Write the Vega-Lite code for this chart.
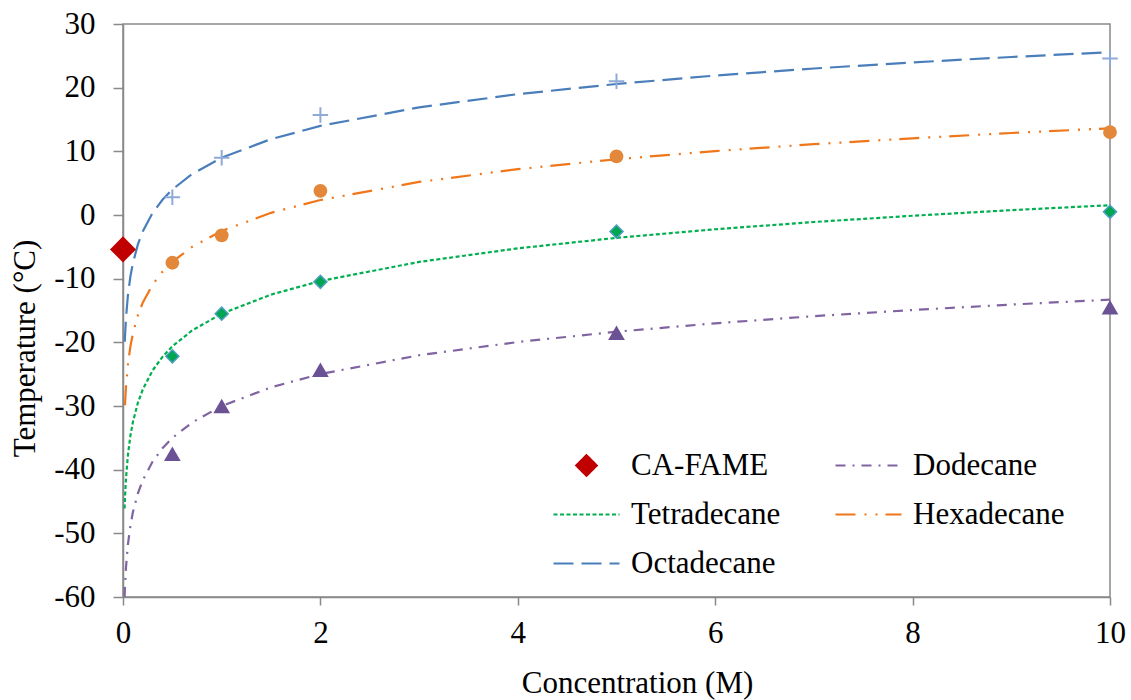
{
  "$schema": "https://vega.github.io/schema/vega-lite/v6.json",
  "width": 987,
  "height": 573,
  "autosize": {"type": "none"},
  "padding": {"left": 123, "top": 24, "right": 21, "bottom": 103},
  "background": "white",
  "config": {
    "font": "Liberation Serif",
    "view": {"stroke": "#898989", "strokeWidth": 1.5},
    "axis": {
      "grid": false,
      "domainColor": "#898989",
      "domainWidth": 1.5,
      "tickColor": "#898989",
      "tickWidth": 1.5,
      "labelFont": "Liberation Serif",
      "labelFontSize": 31,
      "labelColor": "#000000",
      "labelFlush": false,
      "labelOverlap": false,
      "titleFont": "Liberation Serif",
      "titleFontSize": 31,
      "titleFontWeight": "normal",
      "titleColor": "#000000"
    }
  },
  "datasets": {
    "fits": [
      {"series": "Octadecane", "conc": 0.018, "temp": -19.9},
      {"series": "Octadecane", "conc": 0.02, "temp": -19.2},
      {"series": "Octadecane", "conc": 0.03, "temp": -16.25},
      {"series": "Octadecane", "conc": 0.05, "temp": -12.57},
      {"series": "Octadecane", "conc": 0.075, "temp": -9.65},
      {"series": "Octadecane", "conc": 0.1, "temp": -7.58},
      {"series": "Octadecane", "conc": 0.15, "temp": -4.66},
      {"series": "Octadecane", "conc": 0.2, "temp": -2.58},
      {"series": "Octadecane", "conc": 0.3, "temp": 0.33},
      {"series": "Octadecane", "conc": 0.4, "temp": 2.4},
      {"series": "Octadecane", "conc": 0.5, "temp": 4.01},
      {"series": "Octadecane", "conc": 0.7, "temp": 6.43},
      {"series": "Octadecane", "conc": 1, "temp": 9.0},
      {"series": "Octadecane", "conc": 1.5, "temp": 11.92},
      {"series": "Octadecane", "conc": 2, "temp": 13.99},
      {"series": "Octadecane", "conc": 3, "temp": 16.91},
      {"series": "Octadecane", "conc": 4, "temp": 18.98},
      {"series": "Octadecane", "conc": 5, "temp": 20.58},
      {"series": "Octadecane", "conc": 6, "temp": 21.9},
      {"series": "Octadecane", "conc": 7, "temp": 23.01},
      {"series": "Octadecane", "conc": 8, "temp": 23.97},
      {"series": "Octadecane", "conc": 9, "temp": 24.82},
      {"series": "Octadecane", "conc": 10, "temp": 25.58},

      {"series": "Hexadecane", "conc": 0.02, "temp": -29.88},
      {"series": "Hexadecane", "conc": 0.03, "temp": -27.05},
      {"series": "Hexadecane", "conc": 0.05, "temp": -23.47},
      {"series": "Hexadecane", "conc": 0.075, "temp": -20.63},
      {"series": "Hexadecane", "conc": 0.1, "temp": -18.62},
      {"series": "Hexadecane", "conc": 0.15, "temp": -15.78},
      {"series": "Hexadecane", "conc": 0.2, "temp": -13.76},
      {"series": "Hexadecane", "conc": 0.3, "temp": -10.93},
      {"series": "Hexadecane", "conc": 0.4, "temp": -8.91},
      {"series": "Hexadecane", "conc": 0.5, "temp": -7.35},
      {"series": "Hexadecane", "conc": 0.7, "temp": -5.0},
      {"series": "Hexadecane", "conc": 1, "temp": -2.5},
      {"series": "Hexadecane", "conc": 1.5, "temp": 0.34},
      {"series": "Hexadecane", "conc": 2, "temp": 2.35},
      {"series": "Hexadecane", "conc": 3, "temp": 5.19},
      {"series": "Hexadecane", "conc": 4, "temp": 7.2},
      {"series": "Hexadecane", "conc": 5, "temp": 8.76},
      {"series": "Hexadecane", "conc": 6, "temp": 10.04},
      {"series": "Hexadecane", "conc": 7, "temp": 11.12},
      {"series": "Hexadecane", "conc": 8, "temp": 12.05},
      {"series": "Hexadecane", "conc": 9, "temp": 12.88},
      {"series": "Hexadecane", "conc": 10, "temp": 13.62},

      {"series": "Tetradecane", "conc": 0.016, "temp": -46.1},
      {"series": "Tetradecane", "conc": 0.02, "temp": -44.45},
      {"series": "Tetradecane", "conc": 0.03, "temp": -41.45},
      {"series": "Tetradecane", "conc": 0.05, "temp": -37.67},
      {"series": "Tetradecane", "conc": 0.075, "temp": -34.67},
      {"series": "Tetradecane", "conc": 0.1, "temp": -32.54},
      {"series": "Tetradecane", "conc": 0.15, "temp": -29.54},
      {"series": "Tetradecane", "conc": 0.2, "temp": -27.41},
      {"series": "Tetradecane", "conc": 0.3, "temp": -24.41},
      {"series": "Tetradecane", "conc": 0.4, "temp": -22.28},
      {"series": "Tetradecane", "conc": 0.5, "temp": -20.63},
      {"series": "Tetradecane", "conc": 0.7, "temp": -18.14},
      {"series": "Tetradecane", "conc": 1, "temp": -15.5},
      {"series": "Tetradecane", "conc": 1.5, "temp": -12.5},
      {"series": "Tetradecane", "conc": 2, "temp": -10.37},
      {"series": "Tetradecane", "conc": 3, "temp": -7.37},
      {"series": "Tetradecane", "conc": 4, "temp": -5.24},
      {"series": "Tetradecane", "conc": 5, "temp": -3.59},
      {"series": "Tetradecane", "conc": 6, "temp": -2.24},
      {"series": "Tetradecane", "conc": 7, "temp": -1.1},
      {"series": "Tetradecane", "conc": 8, "temp": -0.12},
      {"series": "Tetradecane", "conc": 9, "temp": 0.76},
      {"series": "Tetradecane", "conc": 10, "temp": 1.54},

      {"series": "Dodecane", "conc": 0.016, "temp": -59.98},
      {"series": "Dodecane", "conc": 0.02, "temp": -58.36},
      {"series": "Dodecane", "conc": 0.03, "temp": -55.43},
      {"series": "Dodecane", "conc": 0.05, "temp": -51.72},
      {"series": "Dodecane", "conc": 0.075, "temp": -48.78},
      {"series": "Dodecane", "conc": 0.1, "temp": -46.7},
      {"series": "Dodecane", "conc": 0.15, "temp": -43.75},
      {"series": "Dodecane", "conc": 0.2, "temp": -41.67},
      {"series": "Dodecane", "conc": 0.3, "temp": -38.73},
      {"series": "Dodecane", "conc": 0.4, "temp": -36.64},
      {"series": "Dodecane", "conc": 0.5, "temp": -35.02},
      {"series": "Dodecane", "conc": 0.7, "temp": -32.59},
      {"series": "Dodecane", "conc": 1, "temp": -30.0},
      {"series": "Dodecane", "conc": 1.5, "temp": -27.06},
      {"series": "Dodecane", "conc": 2, "temp": -24.98},
      {"series": "Dodecane", "conc": 3, "temp": -22.03},
      {"series": "Dodecane", "conc": 4, "temp": -19.95},
      {"series": "Dodecane", "conc": 5, "temp": -18.33},
      {"series": "Dodecane", "conc": 6, "temp": -17.01},
      {"series": "Dodecane", "conc": 7, "temp": -15.89},
      {"series": "Dodecane", "conc": 8, "temp": -14.93},
      {"series": "Dodecane", "conc": 9, "temp": -14.07},
      {"series": "Dodecane", "conc": 10, "temp": -13.3}
    ],
    "obs": [
      {"series": "Octadecane", "conc": 0.5, "temp": 2.8},
      {"series": "Octadecane", "conc": 1, "temp": 9.0},
      {"series": "Octadecane", "conc": 2, "temp": 15.7},
      {"series": "Octadecane", "conc": 5, "temp": 21.0},
      {"series": "Octadecane", "conc": 10, "temp": 24.6},
      {"series": "Hexadecane", "conc": 0.5, "temp": -7.5},
      {"series": "Hexadecane", "conc": 1, "temp": -3.2},
      {"series": "Hexadecane", "conc": 2, "temp": 3.8},
      {"series": "Hexadecane", "conc": 5, "temp": 9.2},
      {"series": "Hexadecane", "conc": 10, "temp": 13.0},
      {"series": "Tetradecane", "conc": 0.5, "temp": -22.2},
      {"series": "Tetradecane", "conc": 1, "temp": -15.5},
      {"series": "Tetradecane", "conc": 2, "temp": -10.5},
      {"series": "Tetradecane", "conc": 5, "temp": -2.6},
      {"series": "Tetradecane", "conc": 10, "temp": 0.5},
      {"series": "Dodecane", "conc": 0.5, "temp": -37.5},
      {"series": "Dodecane", "conc": 1, "temp": -30.0},
      {"series": "Dodecane", "conc": 2, "temp": -24.3},
      {"series": "Dodecane", "conc": 5, "temp": -18.5},
      {"series": "Dodecane", "conc": 10, "temp": -14.5},
      {"series": "CA-FAME", "conc": 0, "temp": -5.4}
    ]
  },
  "encoding": {
    "x": {
      "field": "conc",
      "type": "quantitative",
      "scale": {"domain": [0, 10], "nice": false, "zero": false},
      "axis": {
        "title": "Concentration (M)",
        "values": [0, 2, 4, 6, 8, 10],
        "labelFont": "Liberation Serif",
        "labelFontSize": 31,
        "labelExpr": "'' + datum.value",
        "tickSize": 8,
        "labelPadding": 13,
        "titleX": 514,
        "titleY": 95,
        "titleAlign": "center",
        "titleBaseline": "alphabetic"
      }
    },
    "y": {
      "field": "temp",
      "type": "quantitative",
      "scale": {"domain": [-60, 30], "nice": false, "zero": false},
      "axis": {
        "title": "Temperature (°C)",
        "values": [-60, -50, -40, -30, -20, -10, 0, 10, 20, 30],
        "labelFont": "Liberation Serif",
        "labelFontSize": 31,
        "labelExpr": "datum.value < 0 ? '-' + abs(datum.value) : '' + datum.value",
        "tickSize": 10,
        "labelPadding": 18,
        "titleAngle": 270,
        "titleX": -89,
        "titleY": 324,
        "titleAlign": "center",
        "titleBaseline": "alphabetic"
      }
    }
  },
  "layer": [
    {
      "data": {"name": "fits"},
      "mark": {"type": "line", "strokeWidth": 2.2, "clip": true},
      "encoding": {
        "color": {
          "field": "series",
          "type": "nominal",
          "scale": {
            "domain": ["CA-FAME", "Tetradecane", "Octadecane", "Dodecane", "Hexadecane"],
            "range": ["#c00000", "#00b050", "#4a7ebb", "#8064a2", "#f0761a"]
          },
          "legend": {
            "title": null,
            "orient": "none",
            "legendX": 429,
            "legendY": 426,
            "direction": "vertical",
            "columns": 2,
            "padding": 0,
            "rowPadding": 17,
            "columnPadding": 53,
            "clipHeight": 31,
            "symbolType": "stroke",
            "symbolSize": 4356,
            "symbolStrokeWidth": 2.2,
            "labelFont": "Liberation Serif",
            "labelFontSize": 31,
            "labelColor": "#000000",
            "labelOffset": 10,
            "labelLimit": 400,
            "encode": {
              "symbols": {
                "update": {
                  "shape": {"signal": "datum.value === 'CA-FAME' ? 'M0,-0.31L0.31,0L0,0.31L-0.31,0Z' : 'stroke'"},
                  "fill": {"signal": "datum.value === 'CA-FAME' ? '#c00000' : 'transparent'"},
                  "strokeDash": {"signal": "datum.value === 'Dodecane' ? [10,7,2,7] : datum.value === 'Tetradecane' ? [4,2.5] : datum.value === 'Hexadecane' ? [20,9,2,9,2,8] : datum.value === 'Octadecane' ? [20,8] : [1,0]"}
                }
              }
            }
          }
        },
        "strokeDash": {
          "field": "series",
          "type": "nominal",
          "scale": {
            "domain": ["CA-FAME", "Tetradecane", "Octadecane", "Dodecane", "Hexadecane"],
            "range": [[1, 0], [4, 2.5], [20, 8], [10, 7, 2, 7], [20, 9, 2, 9, 2, 8]]
          },
          "legend": null
        }
      }
    },
    {
      "data": {"name": "obs"},
      "transform": [{"filter": "datum.series === 'Octadecane'"}],
      "mark": {"type": "point", "shape": "M-1,0H1M0,-1V1", "filled": false, "stroke": "#8faad8", "strokeWidth": 2, "size": 240, "opacity": 1}
    },
    {
      "data": {"name": "obs"},
      "transform": [{"filter": "datum.series === 'Hexadecane'"}],
      "mark": {"type": "point", "shape": "circle", "filled": true, "fill": "#e3873a", "strokeWidth": 0, "size": 190, "opacity": 1}
    },
    {
      "data": {"name": "obs"},
      "transform": [{"filter": "datum.series === 'Tetradecane'"}],
      "mark": {"type": "point", "shape": "diamond", "filled": true, "fill": "#00a550", "stroke": "#4a9fc0", "strokeWidth": 1.5, "size": 170, "opacity": 1}
    },
    {
      "data": {"name": "obs"},
      "transform": [{"filter": "datum.series === 'Dodecane'"}],
      "mark": {"type": "point", "shape": "triangle-up", "filled": true, "fill": "#6b5294", "strokeWidth": 0, "size": 280, "opacity": 1}
    },
    {
      "data": {"name": "obs"},
      "transform": [{"filter": "datum.series === 'CA-FAME'"}],
      "mark": {"type": "point", "shape": "diamond", "filled": true, "fill": "#c00000", "strokeWidth": 0, "size": 680, "opacity": 1, "clip": false}
    }
  ]
}
